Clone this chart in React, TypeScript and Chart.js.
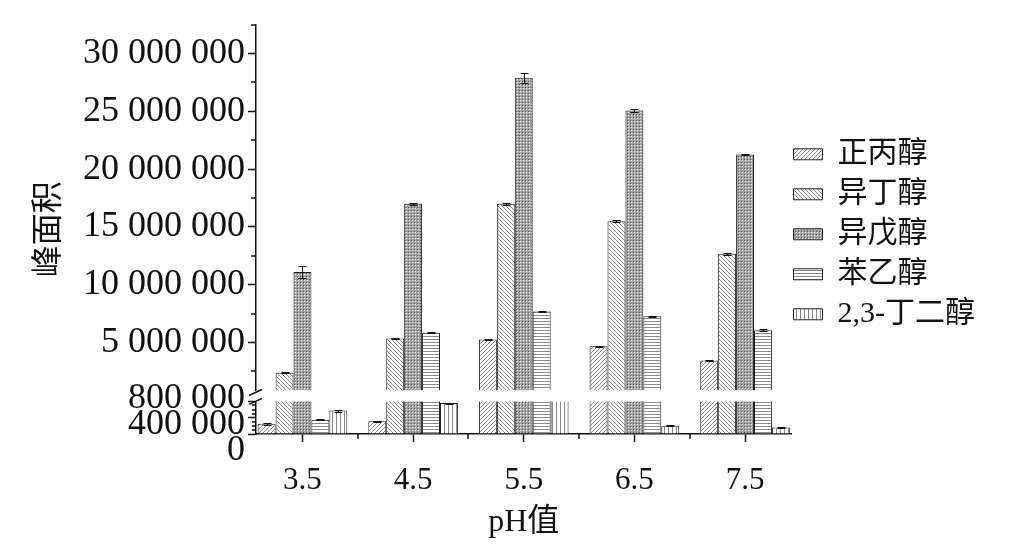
import React, { useEffect, useRef } from 'react';
import { Chart, registerables } from 'chart.js';

Chart.register(...registerables);

// ---------- data ----------
const phLabels = ['3.5', '4.5', '5.5', '6.5', '7.5'];
const phValues = [3.5, 4.5, 5.5, 6.5, 7.5];
const seriesNames = ['正丙醇', '异丁醇', '异戊醇', '苯乙醇', '2,3-丁二醇'];

const nPropanol = [250000, 310000, 5260000, 4680000, 3440000];
const isobutanol = [2380000, 5350000, 17000000, 15500000, 12670000];
const isoamyl = [11100000, 17000000, 27900000, 25070000, 21260000];
const phenylethanol = [350000, 5840000, 7680000, 7270000, 6070000];
const butanediol = [575000, 757000, 830000, 200000, 160000];

const nPropanolErr = [20000, 15000, 80000, 60000, 30000];
const isobutanolErr = [50000, 80000, 80000, 80000, 60000];
const isoamylErr = [500000, 100000, 450000, 100000, 60000];
const phenylethanolErr = [15000, 60000, 60000, 60000, 80000];
const butanediolErr = [25000, 10000, 0, 12000, 10000];

const upperTicks = [5000000, 10000000, 15000000, 20000000, 25000000, 30000000];
const upperMinorTicks = [2500000, 7500000, 12500000, 17500000, 22500000, 27500000, 32500000];
const lowerTicks = [0, 400000, 800000];
const lowerMinorTicks = [100000, 200000, 300000, 500000, 600000, 700000];
const xMinorTicks = [4, 5, 6, 7];

const LOWER_MAX = 800000;
const UPPER_MIN = 850000;
const UPPER_MAX = 32500000;
const X_MIN = 3.08;
const X_MAX = 7.92;

const seriesValues = [nPropanol, isobutanol, isoamyl, phenylethanol, butanediol];
const seriesErrors = [nPropanolErr, isobutanolErr, isoamylErr, phenylethanolErr, butanediolErr];
const patternKinds = ['fwd', 'back', 'dots', 'hline', 'vline'];

const SERIF = '"Liberation Serif", "Times New Roman", serif';
const SERIF_CJK = '"Liberation Serif", "Noto Sans CJK SC", serif';
const INK = '#111';

const fmt = (v: number) => String(Math.round(v)).replace(/\B(?=(\d{3})+(?!\d))/g, ' ');

function makePattern(kind: string): CanvasPattern | string {
  const c = document.createElement('canvas');
  const n = kind === 'dots' ? 3 : kind === 'hline' ? 3 : 4;
  c.width = n;
  c.height = n;
  const g = c.getContext('2d');
  if (!g) return '#ccc';
  g.fillStyle = '#ffffff';
  g.fillRect(0, 0, n, n);
  g.fillStyle = '#8a8a8a';
  if (kind === 'fwd') {
    for (let i = 0; i < n; i++) g.fillRect(i, n - 1 - i, 1, 1);
  } else if (kind === 'back') {
    for (let i = 0; i < n; i++) g.fillRect(i, i, 1, 1);
  } else if (kind === 'hline') {
    g.fillRect(0, 0, n, 1);
  } else if (kind === 'vline') {
    g.fillRect(0, 0, 1, n);
  } else {
    g.fillStyle = '#a4a4a4';
    g.fillRect(0, 0, n, n);
    g.fillStyle = '#555';
    g.fillRect(0, 0, 1, 1);
    g.fillStyle = '#f2f2f2';
    g.fillRect(1, 1, 1, 1);
  }
  const p = g.createPattern(c, 'repeat');
  return p || '#ccc';
}

export default function App() {
  const ref = useRef<HTMLCanvasElement>(null);

  useEffect(() => {
    const canvas = ref.current;
    if (!canvas) return;
    const patterns = patternKinds.map(makePattern);

    const upperSets = seriesValues.map((vals, k) => ({
      label: seriesNames[k],
      data: vals.map((v, i) => ({ x: phValues[i], y: v > UPPER_MIN ? v : null })),
      xAxisID: 'x',
      yAxisID: 'yHigh',
      stack: 's' + k,
      base: UPPER_MIN,
      backgroundColor: patterns[k],
      borderColor: '#222',
      borderWidth: { top: 1, left: 1, right: 1, bottom: 0 },
      borderSkipped: false,
      categoryPercentage: 0.81,
      barPercentage: 1,
    }));

    const lowerSets = seriesValues.map((vals, k) => ({
      label: seriesNames[k] + '_low',
      data: vals.map((v, i) => ({ x: phValues[i], y: Math.min(v, LOWER_MAX) })),
      xAxisID: 'x',
      yAxisID: 'yLow',
      stack: 's' + k,
      backgroundColor: patterns[k],
      borderColor: '#222',
      borderWidth: (ctx: any) => {
        const v = vals[ctx.dataIndex];
        return { top: v !== undefined && v > LOWER_MAX ? 0 : 1, left: 1, right: 1, bottom: 0 };
      },
      borderSkipped: false,
      categoryPercentage: 0.81,
      barPercentage: 1,
    }));

    const extras = {
      id: 'extras',
      afterLayout(chart: any) {
        const lg = chart.legend;
        if (lg) {
          lg.left -= 8;
          lg.right -= 8;
          lg.top += 5;
          lg.bottom += 5;
        }
      },
      afterDatasetsDraw(chart: any) {
        const ctx = chart.ctx;
        ctx.save();
        ctx.strokeStyle = INK;
        ctx.lineWidth = 1;
        seriesValues.forEach((vals, k) => {
          vals.forEach((v, i) => {
            const e = seriesErrors[k][i];
            if (!e) return;
            const useUpper = v > UPPER_MIN;
            const meta = chart.getDatasetMeta(useUpper ? k : k + 5);
            const scale = chart.scales[useUpper ? 'yHigh' : 'yLow'];
            const bar = meta.data[i];
            if (!bar) return;
            const x = Math.round(bar.x) + 0.5;
            const yt = Math.round(scale.getPixelForValue(v + e)) + 0.5;
            const yb = Math.round(scale.getPixelForValue(v - e)) + 0.5;
            ctx.beginPath();
            ctx.moveTo(x, yt);
            ctx.lineTo(x, yb);
            ctx.moveTo(x - 4, yt);
            ctx.lineTo(x + 4, yt);
            ctx.moveTo(x - 4, yb);
            ctx.lineTo(x + 4, yb);
            ctx.stroke();
          });
        });
        ctx.restore();
      },
      afterDraw(chart: any) {
        const ctx = chart.ctx;
        const area = chart.chartArea;
        const yHigh = chart.scales.yHigh;
        const yLow = chart.scales.yLow;
        const xs = chart.scales.x;
        ctx.save();
        ctx.strokeStyle = INK;
        ctx.lineWidth = 1.5;
        const ax = yHigh.right;
        // minor ticks
        ctx.beginPath();
        upperMinorTicks.forEach((v) => {
          const y = Math.round(yHigh.getPixelForValue(v));
          ctx.moveTo(ax, y);
          ctx.lineTo(ax - 5, y);
        });
        lowerMinorTicks.forEach((v) => {
          const y = Math.round(yLow.getPixelForValue(v));
          ctx.moveTo(ax, y);
          ctx.lineTo(ax - 4, y);
        });
        xMinorTicks.forEach((v) => {
          const x = Math.round(xs.getPixelForValue(v));
          ctx.moveTo(x, area.bottom);
          ctx.lineTo(x, area.bottom + 5);
        });
        ctx.stroke();
        // break marks
        const gTop = yHigh.bottom;
        const gBot = yLow.top;
        ctx.lineWidth = 1.5;
        ctx.beginPath();
        ctx.moveTo(ax - 7, gTop + 5);
        ctx.lineTo(ax + 6, gTop - 1);
        ctx.moveTo(ax - 7, gBot + 3);
        ctx.lineTo(ax + 6, gBot - 3);
        ctx.stroke();
        // lower segment labels (spread like the original)
        ctx.fillStyle = INK;
        ctx.font = '36px ' + SERIF;
        ctx.textAlign = 'right';
        ctx.textBaseline = 'middle';
        lowerTicks.forEach((v) => {
          const p = yLow.getPixelForValue(v);
          const y = yLow.bottom + 17 - (yLow.bottom - p) * 1.6;
          ctx.fillText(fmt(v), ax - 11, y);
        });
        // y title
        ctx.font = '32px ' + SERIF_CJK;
        ctx.textAlign = 'center';
        ctx.translate(50, (area.top + area.bottom) / 2);
        ctx.rotate(-Math.PI / 2);
        ctx.fillText('峰面积', 0, 0);
        ctx.restore();
      },
    };

    const chart = new Chart(canvas, {
      type: 'bar',
      data: { datasets: [...upperSets, ...lowerSets] as any },
      plugins: [extras as any],
      options: {
        responsive: false,
        animation: false,
        devicePixelRatio: 1,
        layout: { padding: { top: 20, left: 0, right: 28, bottom: 0 } },
        plugins: {
          tooltip: { enabled: false },
          title: { display: false },
          legend: {
            display: true,
            position: 'right',
            align: 'center',
            fullSize: false,
            maxWidth: 260,
            labels: {
              font: { family: SERIF_CJK, size: 30 },
              color: INK,
              boxWidth: 29,
              boxHeight: 11,
              padding: 10,
              generateLabels: (ch: any) =>
                (Chart.defaults.plugins.legend.labels as any)
                  .generateLabels(ch)
                  .filter((l: any) => l.datasetIndex < 5)
                  .map((l: any) => ({ ...l, lineWidth: 1 })),
            },
          },
        },
        scales: {
          x: {
            type: 'linear',
            position: 'bottom',
            min: X_MIN,
            max: X_MAX,
            offset: false,
            afterBuildTicks: (s: any) => {
              s.ticks = phValues.map((v) => ({ value: v }));
            },
            afterFit: (s: any) => {
              s.height = 122;
            },
            ticks: {
              autoSkip: false,
              maxRotation: 0,
              padding: 20,
              color: INK,
              font: { family: SERIF, size: 31 },
              callback: (_v: any, i: number) => phLabels[i],
            },
            grid: {
              display: true,
              offset: false,
              drawOnChartArea: false,
              drawTicks: true,
              tickLength: 8,
              tickColor: INK,
              tickWidth: 1.5,
              color: INK,
            },
            border: { display: true, color: INK, width: 1.5 },
            title: {
              display: true,
              text: 'pH值',
              color: INK,
              font: { family: SERIF_CJK, size: 32 },
              padding: { top: 0, bottom: 14 },
            },
          },
          yHigh: {
            type: 'linear',
            position: 'left',
            stack: 'v',
            stackWeight: 370,
            weight: 3,
            stacked: false,
            min: UPPER_MIN,
            max: UPPER_MAX,
            afterBuildTicks: (s: any) => {
              s.ticks = upperTicks.map((v) => ({ value: v }));
            },
            afterFit: (s: any) => {
              s.width = 256;
            },
            ticks: {
              autoSkip: false,
              padding: 3,
              color: INK,
              font: { family: SERIF, size: 36 },
              callback: (v: any) => fmt(Number(v)),
            },
            grid: {
              display: true,
              drawOnChartArea: false,
              drawTicks: true,
              tickLength: 8,
              tickColor: INK,
              tickWidth: 1.5,
              color: INK,
            },
            border: { display: true, color: INK, width: 1.5 },
          },
          yGap: {
            type: 'linear',
            position: 'left',
            stack: 'v',
            stackWeight: 11,
            weight: 2,
            min: 0,
            max: 1,
            afterFit: (s: any) => {
              s.width = 256;
            },
            ticks: { display: false },
            grid: { display: false },
            border: { display: false },
          },
          yLow: {
            type: 'linear',
            position: 'left',
            stack: 'v',
            stackWeight: 33,
            weight: 1,
            stacked: false,
            min: 0,
            max: LOWER_MAX,
            afterBuildTicks: (s: any) => {
              s.ticks = lowerTicks.map((v) => ({ value: v }));
            },
            afterFit: (s: any) => {
              s.width = 256;
            },
            ticks: { display: false },
            grid: {
              display: true,
              drawOnChartArea: false,
              drawTicks: true,
              tickLength: 8,
              tickColor: INK,
              tickWidth: 1.5,
              color: INK,
            },
            border: { display: true, color: INK, width: 1.5 },
          },
        },
      } as any,
    });

    return () => chart.destroy();
  }, []);

  return (
    <div style={{ position: 'absolute', left: 0, top: 0, width: 1021, height: 556, background: '#fff' }}>
      <canvas ref={ref} width={1021} height={556} style={{ display: 'block', width: 1021, height: 556 }} />
    </div>
  );
}
